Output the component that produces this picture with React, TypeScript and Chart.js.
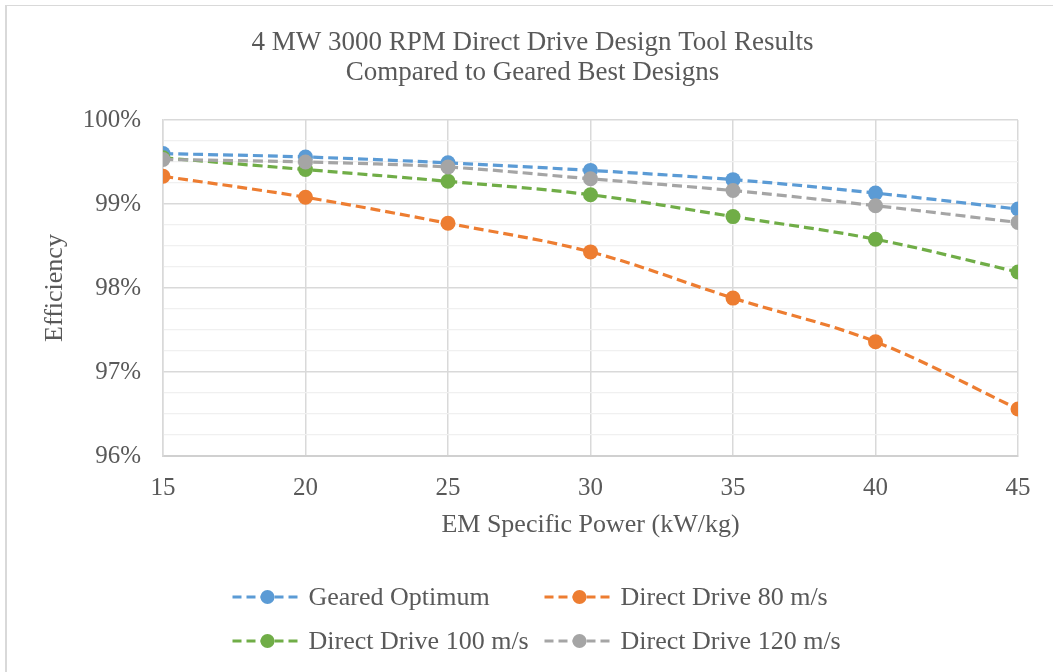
import React, { useEffect, useRef } from "react";
import { Chart, registerables } from "chart.js";

Chart.register(...registerables);

const xValues = [15, 20, 25, 30, 35, 40, 45];
const gearedOptimum = [99.6, 99.56, 99.49, 99.4, 99.29, 99.13, 98.94];
const directDrive80 = [99.33, 99.08, 98.77, 98.43, 97.88, 97.36, 96.56];
const directDrive100 = [99.55, 99.41, 99.27, 99.11, 98.85, 98.58, 98.19];
const directDrive120 = [99.53, 99.5, 99.44, 99.3, 99.16, 98.98, 98.78];

const seriesNames = ["Geared Optimum", "Direct Drive 80 m/s", "Direct Drive 100 m/s", "Direct Drive 120 m/s"];
const seriesValues = [gearedOptimum, directDrive80, directDrive100, directDrive120];
const seriesColors = ["#5B9BD5", "#ED7D31", "#70AD47", "#A5A5A5"];

const titleLines = ["4 MW 3000 RPM Direct Drive Design Tool Results", "Compared to Geared Best Designs"];
const xAxisTitle = "EM Specific Power (kW/kg)";
const yAxisTitle = "Efficiency";

const FONT = '"Liberation Serif", "Times New Roman", serif';
const TEXT = "#595959";

const isMajor = (v: number) => Math.abs(v - Math.round(v)) < 1e-6;

const chartTitle = {
  id: "chartTitle",
  afterDraw(chart: any) {
    const ctx = chart.ctx;
    ctx.save();
    ctx.font = `27px ${FONT}`;
    ctx.fillStyle = TEXT;
    ctx.textAlign = "center";
    ctx.textBaseline = "middle";
    const cx = chart.width / 2 + 6;
    titleLines.forEach((line, i) => ctx.fillText(line, cx, 43 + i * 30));
    ctx.restore();
  },
};

const gridLegend = {
  id: "gridLegend",
  afterDraw(chart: any) {
    const ctx = chart.ctx;
    const cx = chart.width / 2;
    const cols = [cx - 294, cx + 18];
    const rows = [597, 641];
    chart.data.datasets.forEach((ds: any, i: number) => {
      const x = cols[i % 2];
      const y = rows[Math.floor(i / 2)];
      ctx.save();
      ctx.strokeStyle = ds.borderColor;
      ctx.lineWidth = ds.borderWidth;
      ctx.setLineDash([9, 5]);
      ctx.beginPath();
      ctx.moveTo(x, y);
      ctx.lineTo(x + 70, y);
      ctx.stroke();
      ctx.setLineDash([]);
      ctx.fillStyle = ds.pointBackgroundColor;
      ctx.beginPath();
      ctx.arc(x + 35, y, 7, 0, Math.PI * 2);
      ctx.fill();
      ctx.font = `26px ${FONT}`;
      ctx.fillStyle = TEXT;
      ctx.textAlign = "left";
      ctx.textBaseline = "middle";
      ctx.fillText(ds.label, x + 76, y + 1);
      ctx.restore();
    });
  },
};

export default function App() {
  const ref = useRef<HTMLCanvasElement | null>(null);

  useEffect(() => {
    document.body.style.margin = "0";
    document.body.style.overflow = "hidden";
    const canvas = ref.current;
    if (!canvas) return;
    const orders = [4, 3, 2, 1];
    const chart = new Chart(canvas, {
      type: "line",
      data: {
        datasets: seriesNames.map((name, i) => ({
          label: name,
          data: xValues.map((x, j) => ({ x, y: seriesValues[i][j] })),
          borderColor: seriesColors[i],
          backgroundColor: seriesColors[i],
          pointBackgroundColor: seriesColors[i],
          pointBorderColor: seriesColors[i],
          pointBorderWidth: 0,
          pointRadius: 7.5,
          borderWidth: 3.2,
          borderDash: [10, 5],
          tension: 0.35,
          order: orders[i],
          fill: false,
        })),
      },
      options: {
        animation: false,
        responsive: false,
        maintainAspectRatio: false,
        layout: { padding: { left: 0, right: 35, top: 120, bottom: 116 } },
        plugins: {
          legend: { display: false },
          tooltip: { enabled: false },
          title: { display: false },
        },
        scales: {
          x: {
            type: "linear",
            min: 15,
            max: 45,
            ticks: {
              stepSize: 5,
              color: TEXT,
              font: { family: FONT, size: 25 },
              padding: 17,
            },
            grid: { color: "#d9d9d9", lineWidth: 1.5, drawTicks: false },
            border: { color: "#d0d0d0", width: 2 },
            title: {
              display: true,
              text: xAxisTitle,
              color: TEXT,
              font: { family: FONT, size: 26, lineHeight: 1.2 },
              padding: { top: 0, bottom: 15 },
            },
            afterFit(scale: any) {
              scale.height = 100;
            },
          },
          y: {
            min: 96,
            max: 100,
            afterBuildTicks(scale: any) {
              const t = [];
              for (let k = 0; k <= 16; k++) t.push({ value: 96 + k * 0.25 });
              scale.ticks = t;
            },
            ticks: {
              autoSkip: false,
              color: TEXT,
              font: { family: FONT, size: 25 },
              padding: 22,
              callback: (v: any) => (isMajor(v) ? `${Math.round(v)}%` : ""),
            },
            grid: {
              drawTicks: false,
              color: (c: any) => (isMajor(c.tick.value) ? "#d9d9d9" : "#f0f0f0"),
              lineWidth: (c: any) => (isMajor(c.tick.value) ? 1.5 : 1.2),
            },
            border: { color: "#d9d9d9", width: 1.5 },
            title: {
              display: true,
              text: yAxisTitle,
              color: TEXT,
              font: { family: FONT, size: 26, lineHeight: 1.2 },
              padding: { top: 40, bottom: 0 },
            },
            afterFit(scale: any) {
              scale.width = 163;
            },
          },
        },
      },
      plugins: [chartTitle, gridLegend],
    });
    return () => chart.destroy();
  }, []);

  return (
    <div style={{ position: "relative", width: 1053, height: 672, overflow: "hidden", background: "#fff" }}>
      <canvas ref={ref} width={1053} height={672} style={{ display: "block" }} />
      <div
        style={{
          position: "absolute",
          left: 5,
          top: 5,
          width: 1200,
          height: 800,
          borderLeft: "2px solid #d9d9d9",
          borderTop: "1px solid #d9d9d9",
          pointerEvents: "none",
        }}
      />
    </div>
  );
}
